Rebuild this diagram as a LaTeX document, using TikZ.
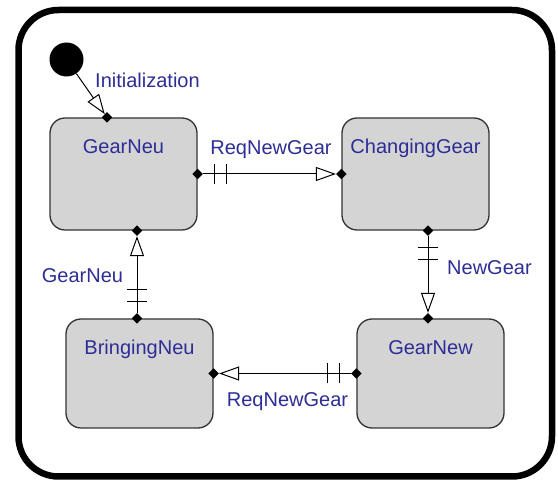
\documentclass[tikz,border=0pt]{standalone}
\usepackage{fontspec}
\setmainfont{Liberation Sans}
\usetikzlibrary{arrows.meta, shapes.geometric, decorations.markings}
\definecolor{statefill}{RGB}{212,212,212}
\definecolor{labelblue}{RGB}{45,45,150}
\tikzset{
state/.style={draw=black!80, line width=1.3pt, fill=statefill, rounded corners=15pt,
  minimum width=147pt, inner sep=0pt},
stname/.style={text=labelblue, font=\fontsize{20}{24}\selectfont, inner sep=0pt},
port/.style={diamond, fill=black, inner sep=0pt, minimum size=10.5pt},
trans/.style={line width=1pt, -{Triangle[open, length=20pt, width=14pt, fill=white]}},
guard/.style={postaction={decorate}, decoration={markings,
  mark=at position 11pt with {\draw[-, line width=1.1pt] (0pt,-10pt) -- (0pt,10pt);},
  mark=at position 23pt with {\draw[-, line width=1.1pt] (0pt,-10pt) -- (0pt,10pt);}}}
}
\begin{document}
\begin{tikzpicture}[x=1pt, y=-1pt]
\useasboundingbox (0,0) rectangle (558,486);
\draw[line width=6.5pt, rounded corners=40pt] (18.5,10) rectangle (552,476.5);
% states
\node[state, minimum height=112pt, label={[stname, anchor=base, yshift=-36pt]north:GearNeu}] (gearneu) at (123.5,174) {};
\node[state, minimum height=112pt, label={[stname, anchor=base, yshift=-36pt]north:ChangingGear}] (changing) at (415.5,174) {};
\node[state, minimum height=109pt, label={[stname, anchor=base, yshift=-36pt]north:BringingNeu}] (bringing) at (139.5,373.5) {};
\node[state, minimum height=109pt, label={[stname, anchor=base, yshift=-36pt]north:GearNew}] (gearnew) at (430.5,373.5) {};
\node[circle, fill=black, minimum size=34pt, inner sep=0pt] (init) at (66.5,59.5) {};
% ports
\node[port, xshift=-16.5pt] (gnN) at (gearneu.north) {};
\node[port] (gnE) at (gearneu.east) {};
\node[port, xshift=13.5pt] (gnS) at (gearneu.south) {};
\node[port] (cgW) at (changing.west) {};
\node[port, xshift=12.5pt] (cgS) at (changing.south) {};
\node[port, xshift=-2.5pt] (gwN) at (gearnew.north) {};
\node[port] (gwW) at (gearnew.west) {};
\node[port] (bnE) at (bringing.east) {};
\node[port, xshift=-2.5pt] (bnN) at (bringing.north) {};
% transitions
\draw[trans] (init) -- (gnN);
\draw[trans, guard] (gnE) -- (cgW);
\draw[trans, guard] (cgS) -- (gwN);
\draw[trans, guard] (gwW) -- (bnE);
\draw[trans, guard] (bnN) -- (gnS);
% events
\node[stname, anchor=base west] (evInit) at (95,88) {Initialization};
\node[stname, anchor=base] (evReqTop) at (271,155) {ReqNewGear};
\node[stname, anchor=base] (evNeu) at (82.5,283) {GearNeu};
\node[stname, anchor=base west] (evNew) at (447,275) {NewGear};
\node[stname, anchor=base] (evReqBot) at (287.5,407) {ReqNewGear};
\end{tikzpicture}
\end{document}
